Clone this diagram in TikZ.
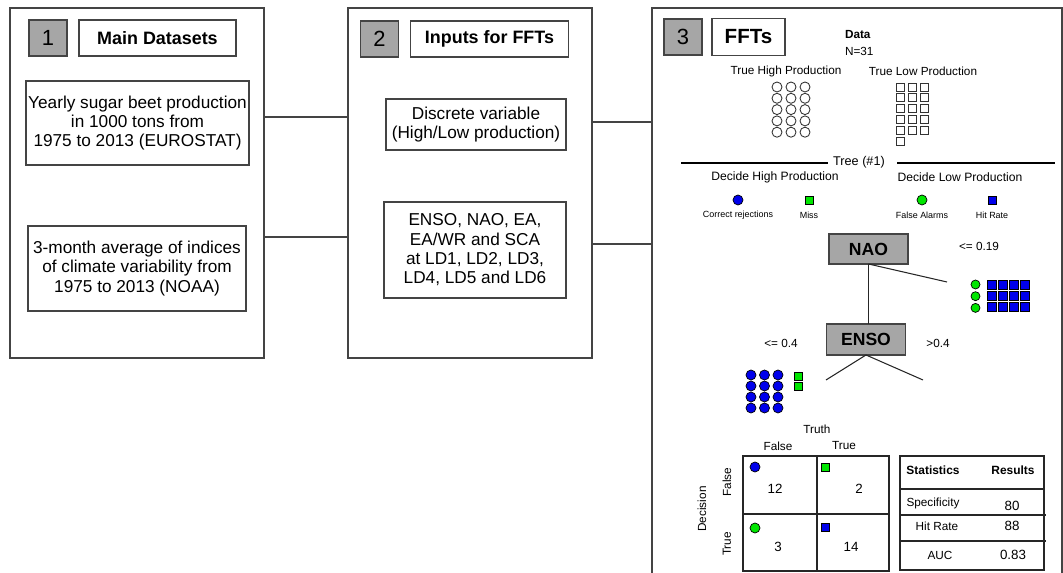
\documentclass[tikz,border=0pt]{standalone}
\usepackage{fontspec}
\setmainfont{Liberation Sans}
\usepackage{xcolor}
\usetikzlibrary{positioning}

\definecolor{numgray}{RGB}{166,166,166}
\definecolor{framegray}{RGB}{68,68,68}
\definecolor{leafblue}{RGB}{0,0,235}
\definecolor{leafgreen}{RGB}{0,230,0}

\begin{document}
\begin{tikzpicture}[x=0.02cm, y=-0.02cm, every node/.style={inner sep=0pt, outer sep=0pt},
  panel/.style={draw=framegray, line width=0.7pt, minimum height=7cm},
  numbox/.style={draw=framegray, line width=0.7pt, fill=numgray, minimum width=0.76cm, minimum height=0.72cm, font=\fontsize{12.5}{13}\selectfont},
  titlebox/.style={draw=framegray, line width=0.7pt, minimum height=0.72cm, font=\bfseries\fontsize{10.2}{12}\selectfont},
  databox/.style={draw=framegray, line width=0.7pt, align=center, font=\fontsize{9.8}{11}\selectfont},
  splitbox/.style={draw=framegray, line width=0.7pt, fill=numgray, minimum width=1.58cm, font=\bfseries\fontsize{10}{12}\selectfont},
  lbl/.style={font=\fontsize{6.7}{8}\selectfont},
  tinylbl/.style={font=\fontsize{5.1}{6}\selectfont},
  numlbl/.style={font=\fontsize{7.6}{9}\selectfont},
  link/.style={draw=framegray, line width=0.7pt},
  branch/.style={draw=black!85, line width=0.6pt},
  treeline/.style={line width=1.3pt},
  ring/.style={draw=black!80, line width=0.5pt},
  bluedot/.style={draw=black, fill=leafblue, line width=0.4pt},
  greendot/.style={draw=black, fill=leafgreen, line width=0.4pt}]
\useasboundingbox (0,0) rectangle (1063,573);

% panels
\node[panel, minimum width=5.08cm] (p1) at (137,183) {};
\node[panel, minimum width=4.88cm] (p2) at (470,183) {};
\draw[link] (652,573) -- (652,8) coordinate (p3) -- (1062,8) -- (1062,573);

% panel 1
\node[numbox] (n1) at (48,38) {1};
\node[titlebox, minimum width=3.14cm, right=0.24cm of n1] (t1) {Main Datasets};
\node[databox, minimum width=4.46cm, minimum height=1.68cm] (prod) at (137.5,123) {Yearly sugar beet production\\in 1000 tons from\\1975 to 2013 (EUROSTAT)};
\node[databox, minimum width=4.36cm, minimum height=1.70cm] (clim) at (137,268.5) {3-month average of indices\\of climate variability from\\1975 to 2013 (NOAA)};

% panel 2
\node[numbox] (n2) at (379.5,39) {2};
\node[titlebox, minimum width=3.16cm, right=0.24cm of n2] (t2) {Inputs for FFTs};
\node[databox, minimum width=3.6cm, minimum height=1.02cm] (disc) at (476,124.5) {Discrete variable\\(High/Low production)};
\node[databox, minimum width=3.64cm, minimum height=1.92cm] (pred) at (475,250) {ENSO, NAO, EA,\\EA/WR and SCA\\at LD1, LD2, LD3,\\LD4, LD5 and LD6};

\draw[link] (p1.east |- 0,117) -- (p2.west |- 0,117);
\draw[link] (p1.east |- 0,237) -- (p2.west |- 0,237);
\draw[link] (p2.east |- 0,122) -- (p3 |- 0,122);
\draw[link] (p2.east |- 0,244) -- (p3 |- 0,244);

% panel 3 header and data
\node[numbox] (n3) at (683,37) {3};
\node[titlebox, minimum width=1.46cm, minimum height=0.74cm, font=\bfseries\fontsize{11.7}{13}\selectfont, right=0.2cm of n3] (t3) {FFTs};
\node[lbl, font=\bfseries\fontsize{6.7}{8}\selectfont, anchor=west] (data) at (845,35) {Data};
\node[lbl, anchor=west] (nobs) at (845,51) {N=31};
\node[lbl] (high) at (786,71) {True High Production};
\node[lbl] (low) at (923,71) {True Low Production};
\foreach \c in {0,1,2}
  \foreach \r in {0,...,4}
    \draw[ring] (777+\c*14,87+\r*11.3) circle[radius=0.1cm];
\foreach \c in {0,1,2}
  \foreach \r in {0,...,4}
    \draw[ring] (896+\c*12,83+\r*10.8) rectangle ++(8,8);
\draw[ring] (896,137) rectangle ++(8,8);

% tree header and legend
\node[lbl, font=\fontsize{7.2}{8}\selectfont] (tree) at (859,162) {Tree (\#1)};
\draw[treeline] (681,163) -- (828,163);
\draw[treeline] (897,163) -- (1055,163);
\node[lbl, font=\fontsize{6.9}{8}\selectfont] (dhigh) at (775,177) {Decide High Production};
\node[lbl, font=\fontsize{6.9}{8}\selectfont] (dlow) at (960,177) {Decide Low Production};
\draw[bluedot] (738,200) circle[radius=0.1cm];
\draw[greendot] (805,196) rectangle ++(8,8);
\draw[greendot] (922,200) circle[radius=0.1cm];
\draw[bluedot] (988,196) rectangle ++(8,8);
\node[tinylbl] (crej) at (738,215) {Correct rejections};
\node[tinylbl] (miss) at (809,215) {Miss};
\node[tinylbl] (falarm) at (922,215) {False Alarms};
\node[tinylbl] (hit) at (992,215) {Hit Rate};

% tree
\node[splitbox, minimum height=0.60cm] (nao) at (868.5,249) {NAO};
\node[splitbox, minimum height=0.62cm] (enso) at (866,339.5) {ENSO};
\coordinate (naoR) at (947,282);
\coordinate (ensoL) at (826,380);
\coordinate (ensoR) at (923,380);
\draw[branch] (nao.south) -- (nao.south |- enso.north);
\draw[branch] (nao.south) -- (naoR);
\draw[branch] (enso.south) -- (ensoL);
\draw[branch] (enso.south) -- (ensoR);
\node[lbl] (cut1) at (979,246) {<= 0.19};
\node[lbl] (cut2) at (781,343) {<= 0.4};
\node[lbl] (cut3) at (938,343) {>0.4};

% leaves
\foreach \r in {0,1,2}
  \draw[greendot] (975.5,284.5+\r*11.7) circle[radius=0.09cm];
\foreach \c in {0,...,3}
  \foreach \r in {0,1,2}
    \draw[bluedot] (987.5+\c*10.8,280+\r*11) rectangle ++(9,9);
\foreach \c in {0,1,2}
  \foreach \r in {0,...,3}
    \draw[bluedot] (751+\c*13.5,375+\r*11) circle[radius=0.1cm];
\foreach \r in {0,1}
  \draw[greendot] (794,372+\r*10) rectangle ++(8,8);

% confusion matrix
\node[lbl] (truth) at (817,429) {Truth};
\node[lbl] (tfalse) at (778,446) {False};
\node[lbl] (ttrue) at (844,446) {True};
\node[lbl, rotate=90] (dfalse) at (727,482) {False};
\node[lbl, rotate=90] (dtrue) at (727,544) {True};
\node[lbl, rotate=90] (dec) at (702,509) {Decision};
\draw[black!85, line width=0.7pt] (743,456) rectangle (889,571);
\draw[black!85, line width=0.7pt] (817,456) -- (817,571);
\draw[black!85, line width=0.7pt] (743,514) -- (889,514);
\draw[bluedot] (755,467) circle[radius=0.1cm];
\draw[greendot] (821,463) rectangle ++(8,8);
\draw[greendot] (755,528) circle[radius=0.1cm];
\draw[bluedot] (821,523) rectangle ++(8,8);
\node[numlbl] (cr) at (775,489) {12};
\node[numlbl] (mi) at (859,489) {2};
\node[numlbl] (fa) at (778,547) {3};
\node[numlbl] (hr) at (851,547) {14};

% statistics table
\draw[black!85, line width=0.7pt] (900,456) rectangle (1044,570);
\draw[black!85, line width=0.7pt] (900,489) -- (1044,489);
\draw[black!85, line width=0.7pt] (900,515) -- (1046,515);
\draw[black!85, line width=0.7pt] (900,541) -- (1046,541);
\node[lbl, font=\bfseries\fontsize{6.8}{8}\selectfont] (sthead) at (933,470) {Statistics};
\node[lbl, font=\bfseries\fontsize{6.8}{8}\selectfont] (rshead) at (1013,470) {Results};
\node[lbl] (spec) at (933,503) {Specificity};
\node[numlbl] (specv) at (1012,506) {80};
\node[lbl] (hitr) at (937,526) {Hit Rate};
\node[numlbl] (hitv) at (1012,526) {88};
\node[lbl] (auc) at (940,555) {AUC};
\node[numlbl] (aucv) at (1013,555) {0.83};
\end{tikzpicture}
\end{document}
